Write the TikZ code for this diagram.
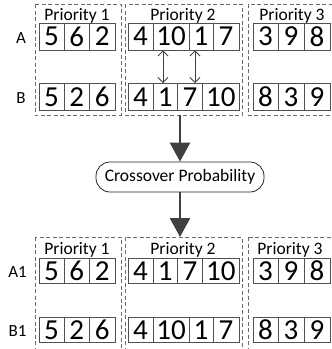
\documentclass[tikz,border=0pt]{standalone}
\usepackage{fontspec}
\setmainfont{Carlito}
\usetikzlibrary{arrows.meta}

\definecolor{cellgray}{HTML}{505050}
\definecolor{dashgray}{HTML}{6A6A6A}
\definecolor{arrowgray}{HTML}{404040}

% one gene cell: name, left x, right x, centre y, height, value
\newcommand\gcell[6]{\node[cellbox, minimum width={#3-#2}, minimum height={#5}] (#1) at ({(#2+#3)/2},#4) {#6};}

\begin{document}
\begin{tikzpicture}[x=1pt,y=-1pt,
  cellbox/.style={draw=cellgray, line width=0.8pt, inner sep=0pt, text=black,
    font=\fontsize{29}{29}\selectfont},
  dashbox/.style={draw=dashgray, line width=0.8pt, dash pattern=on 4pt off 2.5pt},
  prio/.style={anchor=base, inner sep=0pt, text=black, font=\fontsize{17.5}{17.5}\selectfont},
  rowlab/.style={inner sep=0pt, text=black, font=\fontsize{17}{17}\selectfont},
  swap/.style={draw=arrowgray, line width=0.9pt, {Straight Barb[length=5pt,width=10pt]}-{Straight Barb[length=5pt,width=10pt]}},
  bigarrow/.style={draw=arrowgray, line width=2.6pt, -{Triangle[length=19pt,width=20pt]}},
  procbox/.style={draw=black!85, line width=0.8pt, rounded corners=14pt, minimum width=168pt,
    minimum height=30pt, inner sep=0pt, font=\fontsize{17.5}{17.5}\selectfont}]
\useasboundingbox (0,0) rectangle (332,349);
\clip (0,0) rectangle (332,349);

% ---------- parents ----------
\draw[dashbox] (35,4) rectangle (121,115);
\draw[dashbox] (125,4) rectangle (242,115);
\draw[dashbox] (248,4) rectangle (345,115);

\node[prio] (p1t) at (77,20) {Priority 1};
\node[prio] (p2t) at (183,20) {Priority 2};
\node[prio] (p3t) at (292,20) {Priority 3};

\node[rowlab] (labA) at (21,38) {A};
\node[rowlab] (labB) at (21,98) {B};

% parent A
\gcell{aa1}{39}{64}{36.5}{27}{5}
\gcell{aa2}{64}{89.5}{36.5}{27}{6}
\gcell{aa3}{89.5}{115}{36.5}{27}{2}
\gcell{ab1}{128}{153}{36.5}{27}{4}
\gcell{ab2}{153}{189}{36.5}{27}{10}
\gcell{ab3}{189}{213}{36.5}{27}{1}
\gcell{ab4}{213}{239}{36.5}{27}{7}
\gcell{ac1}{253}{278}{36.5}{27}{3}
\gcell{ac2}{278}{304}{36.5}{27}{9}
\gcell{ac3}{304}{330}{36.5}{27}{8}

% parent B
\gcell{ba1}{39}{64}{97}{27}{5}
\gcell{ba2}{64}{89.5}{97}{27}{2}
\gcell{ba3}{89.5}{115}{97}{27}{6}
\gcell{bb1}{128}{153}{97}{27}{4}
\gcell{bb2}{153}{177.5}{97}{27}{1}
\gcell{bb3}{177.5}{202.5}{97}{27}{7}
\gcell{bb4}{202.5}{239}{97}{27}{10}
\gcell{bc1}{253}{278}{97}{27}{8}
\gcell{bc2}{278}{304}{97}{27}{3}
\gcell{bc3}{304}{330}{97}{27}{9}

% exchanged genes
\draw[swap] ([xshift=-8pt]ab2.south) -- ([xshift=-8pt]ab2.south |- bb2.north);
\draw[swap] ([xshift=-6pt]ab3.south) -- ([xshift=-6pt]ab3.south |- bb3.north);

% ---------- crossover ----------
\coordinate (topout) at (180,115);
\coordinate (botin) at (180,237);
\node[procbox] (cross) at (180,177) {Crossover Probability};
\draw[bigarrow] (topout) -- (cross.north);
\draw[bigarrow] (cross.south) -- (botin);

% ---------- offspring ----------
\draw[dashbox] (35,237) rectangle (121,360);
\draw[dashbox] (125,237) rectangle (242,360);
\draw[dashbox] (248,237) rectangle (345,360);

\node[prio] (p1b) at (77,254) {Priority 1};
\node[prio] (p2b) at (183,254) {Priority 2};
\node[prio] (p3b) at (290,254) {Priority 3};

\node[rowlab] (labA1) at (17.5,272) {A1};
\node[rowlab] (labB1) at (17.5,331) {B1};

% child A1
\gcell{ca1}{39}{64}{271}{25}{5}
\gcell{ca2}{64}{89.5}{271}{25}{6}
\gcell{ca3}{89.5}{115}{271}{25}{2}
\gcell{cb1}{128}{153}{271}{25}{4}
\gcell{cb2}{153}{177.5}{271}{25}{1}
\gcell{cb3}{177.5}{202.5}{271}{25}{7}
\gcell{cb4}{202.5}{239}{271}{25}{10}
\gcell{cc1}{253}{278}{271}{25}{3}
\gcell{cc2}{278}{304}{271}{25}{9}
\gcell{cc3}{304}{330}{271}{25}{8}

% child B1
\gcell{da1}{39}{64}{330}{25}{5}
\gcell{da2}{64}{89.5}{330}{25}{2}
\gcell{da3}{89.5}{115}{330}{25}{6}
\gcell{db1}{128}{153}{330}{25}{4}
\gcell{db2}{153}{189}{330}{25}{10}
\gcell{db3}{189}{213}{330}{25}{1}
\gcell{db4}{213}{239}{330}{25}{7}
\gcell{dc1}{253}{278}{330}{25}{8}
\gcell{dc2}{278}{304}{330}{25}{3}
\gcell{dc3}{304}{330}{330}{25}{9}
\end{tikzpicture}
\end{document}
